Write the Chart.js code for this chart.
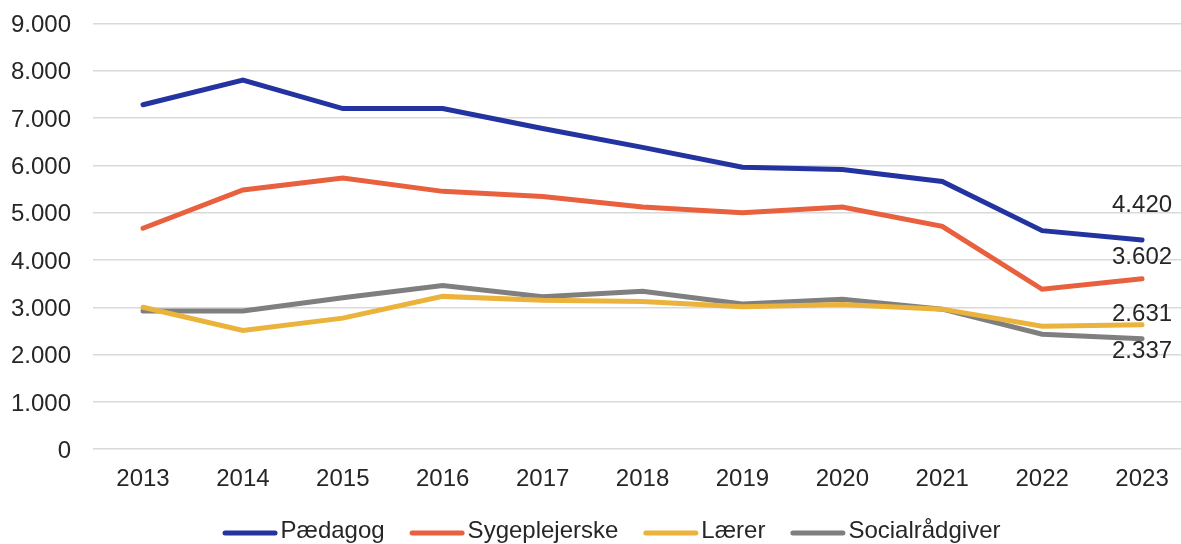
<!DOCTYPE html>
<html>
<head>
<meta charset="utf-8">
<script src="https://cdn.jsdelivr.net/npm/chart.js@4.4.1/dist/chart.umd.min.js"></script>
<style>
html,body{margin:0;padding:0;background:#fff;overflow:hidden;width:1181px;height:544px;}
#wrap{position:absolute;left:-11px;top:-13px;width:1203px;height:557px;}
</style>
</head>
<body>
<div id="wrap"><canvas id="c"></canvas></div>
<script>
const years = ['2013','2014','2015','2016','2017','2018','2019','2020','2021','2022','2023'];
const paedagog = [7280,7800,7200,7200,6780,6380,5960,5910,5660,4620,4420];
const sygeplejerske = [4670,5480,5730,5450,5340,5120,5000,5120,4710,3380,3602];
const laerer = [3000,2510,2770,3230,3150,3120,3010,3060,2960,2600,2631];
const socialraadgiver = [2920,2920,3200,3460,3220,3340,3070,3170,2960,2430,2337];
const seriesNames = ['Pædagog','Sygeplejerske','Lærer','Socialrådgiver'];

const fmt = v => v.toString().replace(/\B(?=(\d{3})+(?!\d))/g, '.');
const colors = ['#23339f','#e8603e','#ebb33b','#7f7f7f'];
const labelOffsets = [-35,-21,-10,13];
const FONT = '"Liberation Sans", Arial, sans-serif';
const TEXT = '#262626';

const endLabels = {
  id:'endLabels',
  afterDatasetsDraw(chart){
    const ctx = chart.ctx;
    ctx.save();
    ctx.font = '24px ' + FONT;
    ctx.fillStyle = TEXT;
    ctx.textAlign = 'center';
    ctx.textBaseline = 'middle';
    chart.data.datasets.forEach((ds,i)=>{
      const meta = chart.getDatasetMeta(i);
      const last = meta.data[meta.data.length-1];
      const v = ds.data[ds.data.length-1];
      ctx.fillText(fmt(v), last.x, last.y + labelOffsets[i]);
    });
    ctx.restore();
  }
};

const customLegend = {
  id:'customLegend',
  afterDraw(chart){
    const ctx = chart.ctx;
    ctx.save();
    ctx.font = '24px ' + FONT;
    const sw = 55, gapText = 3, gapItem = 25;
    const items = chart.data.datasets.map(ds=>({text:ds.label,color:ds.borderColor,w:ctx.measureText(ds.label).width}));
    const total = items.reduce((s,it)=>s+sw+gapText+it.w,0) + gapItem*(items.length-1);
    let x = 622.5 - total/2;
    const ySw = 546, yText = 551;
    items.forEach(it=>{
      ctx.strokeStyle = it.color;
      ctx.lineWidth = 5;
      ctx.lineCap = 'round';
      ctx.beginPath();
      ctx.moveTo(x+2.5, ySw);
      ctx.lineTo(x+sw-2.5, ySw);
      ctx.stroke();
      ctx.fillStyle = TEXT;
      ctx.textAlign = 'left';
      ctx.textBaseline = 'alphabetic';
      ctx.fillText(it.text, x+sw+gapText, yText);
      x += sw + gapText + it.w + gapItem;
    });
    ctx.restore();
  }
};

const allData = [paedagog, sygeplejerske, laerer, socialraadgiver];
new Chart(document.getElementById('c'), {
  type:'line',
  data:{
    labels: years,
    datasets: allData.map((d,i)=>({
      label: seriesNames[i],
      data: d,
      borderColor: colors[i],
      backgroundColor: colors[i],
      borderWidth: 5,
      pointRadius: 0,
      tension: 0,
      borderCapStyle: 'round',
      borderJoinStyle: 'miter'
    }))
  },
  options:{
    responsive:true,
    maintainAspectRatio:false,
    animation:false,
    layout:{padding:{top:0,left:0,right:0,bottom:42}},
    plugins:{
      legend:{display:false},
      tooltip:{enabled:false}
    },
    scales:{
      x:{
        offset:true,
        grid:{display:false},
        border:{display:false},
        ticks:{font:{size:24,family:FONT},color:TEXT,padding:8,maxRotation:0}
      },
      y:{
        min:0,max:9000,
        border:{display:false},
        grid:{color:'#d9d9d9',lineWidth:1.5,drawTicks:false},
        ticks:{stepSize:1000,font:{size:24,family:FONT},color:TEXT,padding:22,labelOffset:2,callback:v=>fmt(v)}
      }
    }
  },
  plugins:[endLabels, customLegend]
});
</script>
</body>
</html>
